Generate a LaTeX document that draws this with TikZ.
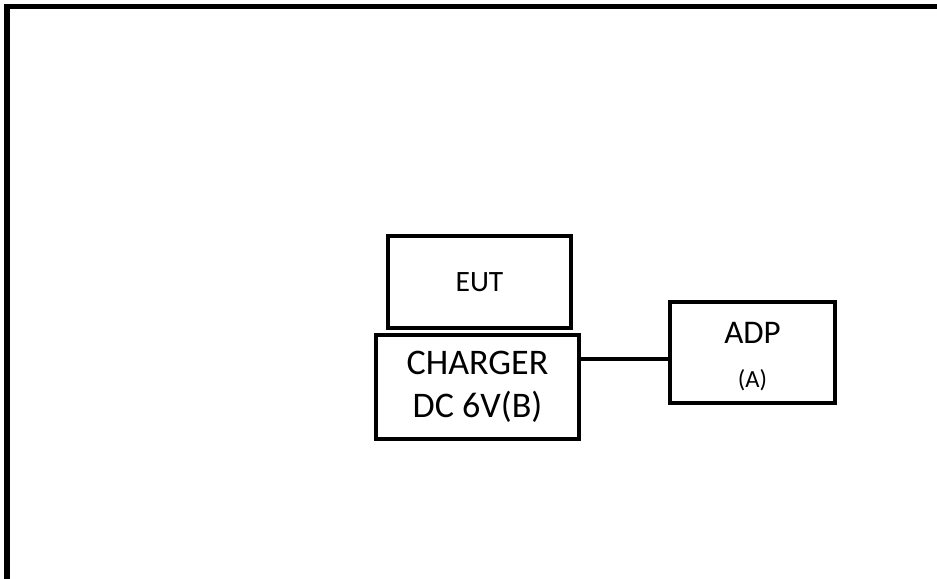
\documentclass[tikz,border=0pt]{standalone}
\usepackage{fontspec}
\setmainfont{Carlito}
\usetikzlibrary{positioning}

\begin{document}
\begin{tikzpicture}[x=0.2mm, y=-0.2mm,
    unit/.style={draw, line width=2.5pt, rectangle, align=center, inner sep=0pt},
    wire/.style={line width=2.5pt}]
\clip (0,0) rectangle (937,578);
\useasboundingbox (0,0) rectangle (937,578);
% outer frame (only top and left visible)
\draw[line width=2.85pt] (7,600) -- (7,6.5) -- (960,6.5);
% equipment
\node[unit, minimum width=36.6mm, minimum height=18.4mm, font=\fontsize{16.8}{20}\selectfont] (eut) at (479.5,282) {EUT};
\node[unit, minimum width=40.6mm, minimum height=20.8mm, font=\fontsize{20.5}{24.5}\selectfont] (chg) at (477.5,387) {CHARGER\\DC 6V(B)};
\node[unit, minimum width=33mm, minimum height=20.2mm,
  label={[align=center, inner sep=0pt, yshift=-2.3pt, font=\fontsize{18.8}{25.5}\selectfont]center:{ADP\\{\fontsize{14}{15}\selectfont (A)}}}] (adp) at (752.5,352.5) {};
% cable
\draw[wire] ([yshift=-1.3mm]adp.west) -- ([yshift=-1.3mm]adp.west -| chg.east);
\end{tikzpicture}
\end{document}
